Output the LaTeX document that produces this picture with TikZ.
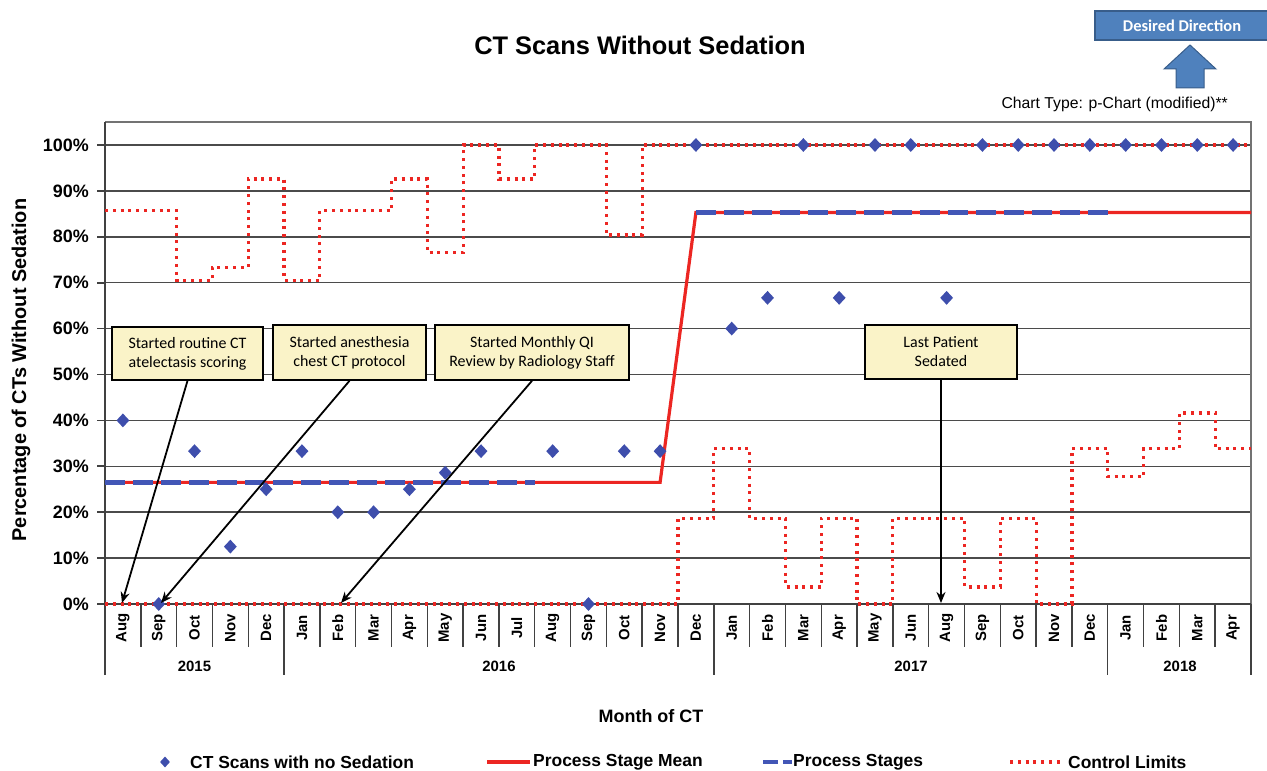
\documentclass[tikz,border=0pt]{standalone}
\usepackage{fontspec}
\setmainfont{Liberation Sans}
\newfontfamily\carl{Carlito}
\usetikzlibrary{arrows.meta,shapes.geometric}
\definecolor{ptblue}{RGB}{62,78,172}
\definecolor{stageblue}{RGB}{66,86,182}
\definecolor{meanred}{RGB}{236,38,34}
\definecolor{limred}{RGB}{236,38,34}
\definecolor{gridgray}{RGB}{75,75,75}
\definecolor{axisgray}{RGB}{65,65,65}
\definecolor{framegray}{RGB}{115,115,115}
\definecolor{calloutfill}{RGB}{250,243,200}
\definecolor{ddblue}{RGB}{79,129,189}
\definecolor{ddborder}{RGB}{56,93,138}
\begin{document}
\begin{tikzpicture}[x=1bp,y=-1bp,
  gridln/.style={draw=gridgray, line width=1.5bp},
  axisline/.style={draw=axisgray, line width=1.7bp},
  msep/.style={draw=axisgray, line width=1.4bp},
  framel/.style={draw=framegray, line width=2bp},
  ytl/.style={font=\bfseries\fontsize{18}{20}\selectfont, anchor=east, inner sep=0pt},
  mon/.style={font=\bfseries\fontsize{15}{17}\selectfont, rotate=90, inner sep=0pt},
  yr/.style={font=\bfseries\fontsize{15}{17}\selectfont, inner sep=0pt},
  pt/.style={diamond, fill=ptblue, inner sep=0pt, minimum width=13bp, minimum height=14bp},
  meanline/.style={draw=meanred, line width=3.2bp},
  stageline/.style={draw=stageblue, line width=4.5bp, dash pattern=on 20bp off 8bp},
  limline/.style={draw=limred, line width=3.2bp, dash pattern=on 3bp off 4.8bp},
  calloutbox/.style={draw=black, line width=1.6bp, fill=calloutfill, align=center, inner sep=0pt, font=\carl\fontsize{16}{19}\selectfont},
  callarrow/.style={draw=black, line width=1.8bp, -{Stealth[length=11bp,width=9bp]}},
  leg/.style={font=\bfseries\fontsize{17.5}{20}\selectfont, anchor=west, inner sep=0pt}
]
\useasboundingbox (0,0) rectangle (1267,771);

% title and header
\node[font=\bfseries\fontsize{25.5}{29}\selectfont] (title) at (640,45) {CT Scans Without Sedation};
\node[draw=ddborder, fill=ddblue, line width=1.2bp, minimum width=176bp, minimum height=29bp, inner sep=0pt] (ddbox) at (1183,25.5) {};
\node[font=\carl\bfseries\fontsize{16.5}{18}\selectfont, text=white, inner sep=0pt] (ddtext) at (1182,25.5) {Desired Direction};
\filldraw[fill=ddblue, draw=ddborder, line width=1bp] (1190,45) -- (1216,69) -- (1204,69) -- (1204,88) -- (1176,88) -- (1176,69) -- (1164,69) -- cycle;
\node[anchor=east, font=\fontsize{15.8}{17}\selectfont, inner sep=0pt] (ctype) at (1228,104) {Chart Type: p-Chart (modified)**};

% gridlines
\begin{scope}[shift={(105,604)}, x=35.8125bp, y=4.59bp]
\foreach \k in {1,...,10}{\draw[gridln] (0,10*\k) -- (32,10*\k);}
\end{scope}

% frame
\draw[framel] (105,122) -- (1251,122) -- (1251,604);
\draw[axisline] (105,675) -- (105,122);
\draw[axisline] (105,604) -- (1251,604);

% y ticks and labels
\foreach \k in {0,...,10}{
  \pgfmathsetmacro\yy{604-45.9*\k}
  \pgfmathtruncatemacro\pc{10*\k}
  \draw[axisline] (97,\yy) -- (105,\yy);
  \node[ytl] (yl\k) at (89,\yy) {\pc\%};
}
\node[rotate=90, font=\bfseries\fontsize{20}{22}\selectfont, inner sep=0pt] (ylab) at (21,370) {Percentage of CTs Without Sedation};

% category separators
\foreach \k in {1,...,31}{
  \pgfmathsetmacro\xx{105+35.8125*\k}
  \draw[msep] (\xx,604) -- (\xx,647);
}
\foreach \k in {5,17,28,32}{
  \pgfmathsetmacro\xx{105+35.8125*\k}
  \draw[msep] (\xx,604) -- (\xx,675);
}
% month labels
\foreach \m [count=\i from 0] in {Aug,Sep,Oct,Nov,Dec,Jan,Feb,Mar,Apr,May,Jun,Jul,Aug,Sep,Oct,Nov,Dec,Jan,Feb,Mar,Apr,May,Jun,Aug,Sep,Oct,Nov,Dec,Jan,Feb,Mar,Apr}{
  \pgfmathsetmacro\xx{105+35.8125*(\i+0.5)}
  \node[mon] (m\i) at (\xx,628) {\m};
}
\node[yr] (y2015) at (194.5,666) {2015};
\node[yr] (y2016) at (499,666) {2016};
\node[yr] (y2017) at (911,666) {2017};
\node[yr] (y2018) at (1180,666) {2018};

% data
\begin{scope}[shift={(105,604)}, x=35.8125bp, y=4.59bp]
\draw[limline] (0,85.7) -- (2,85.7) -- (2,70.5) -- (3,70.5) -- (3,73.3) -- (4,73.3) -- (4,92.6) -- (5,92.6) -- (5,70.5) -- (6,70.5) -- (6,85.7) -- (8,85.7) -- (8,92.6) -- (9,92.6) -- (9,76.6) -- (10,76.6) -- (10,100) -- (11,100) -- (11,92.6) -- (12,92.6) -- (12,100) -- (14,100) -- (14,80.4) -- (15,80.4) -- (15,100) -- (32,100);
\draw[limline] (0,0) -- (16,0) -- (16,18.7) -- (17,18.7) -- (17,33.8) -- (18,33.8) -- (18,18.7) -- (19,18.7) -- (19,3.7) -- (20,3.7) -- (20,18.7) -- (21,18.7) -- (21,0) -- (22,0) -- (22,18.7) -- (24,18.7) -- (24,3.7) -- (25,3.7) -- (25,18.7) -- (26,18.7) -- (26,0) -- (27,0) -- (27,33.8) -- (28,33.8) -- (28,27.7) -- (29,27.7) -- (29,33.8) -- (30,33.8) -- (30,41.6) -- (31,41.6) -- (31,33.8) -- (32,33.8);
\draw[meanline] (0,26.5) -- (15.5,26.5) -- (16.5,85.3) -- (32,85.3);
\draw[stageline] (0,26.5) -- (12,26.5);
\draw[stageline] (16.5,85.3) -- (28,85.3);
\foreach \i/\v in {0/40,1/0,2/33.3,3/12.5,4/25,5/33.3,6/20,7/20,8/25,9/28.6,10/33.3,12/33.3,13/0,14/33.3,15/33.3,16/100,17/60,18/66.7,19/100,20/66.7,21/100,22/100,23/66.7,24/100,25/100,26/100,27/100,28/100,29/100,30/100,31/100}{
  \node[pt] (d\i) at ({\i+0.5},\v) {};
}
\end{scope}

% callouts
\node[calloutbox, minimum width=151bp, minimum height=53bp] (c1) at (187.5,353.5) {Started routine CT\\atelectasis scoring};
\node[calloutbox, minimum width=153bp, minimum height=55bp] (c2) at (349.5,352.5) {Started anesthesia\\chest CT protocol};
\node[calloutbox, minimum width=194bp, minimum height=55bp] (c3) at (532,352.5) {Started Monthly QI\\Review by Radiology Staff};
\node[calloutbox, minimum width=152bp, minimum height=54bp] (c4) at (941,352) {Last Patient\\Sedated};
\coordinate (t1) at (122,603);
\coordinate (t2) at (161,603);
\coordinate (t3) at (341,603);
\coordinate (t4) at (941,603);
\draw[callarrow] (c1.south) -- (t1);
\draw[callarrow] (c2.south) -- (t2);
\draw[callarrow] (c3.south) -- (t3);
\draw[callarrow] (c4.south) -- (t4);

% axis title and legend
\node[font=\bfseries\fontsize{18}{20}\selectfont] (xlab) at (651,716) {Month of CT};
\node[pt, minimum width=10bp, minimum height=11bp] (legpt) at (165,762) {};
\node[leg] (legt1) at (190,762) {CT Scans with no Sedation};
\coordinate (lm1) at (487,762);
\coordinate (lm2) at (530,762);
\draw[meanline] (lm1) -- (lm2);
\node[leg] (legt2) at (533,762) {Process Stage Mean};
\coordinate (ls1) at (763,762);
\coordinate (ls2) at (792,762);
\draw[stageline, dash pattern=on 15bp off 5bp] (ls1) -- (ls2);
\node[leg] (legt3) at (793,762) {Process Stages};
\coordinate (ll1) at (1010,762);
\coordinate (ll2) at (1062,762);
\draw[limline] (ll1) -- (ll2);
\node[leg] (legt4) at (1068,762) {Control Limits};
\end{tikzpicture}
\end{document}
